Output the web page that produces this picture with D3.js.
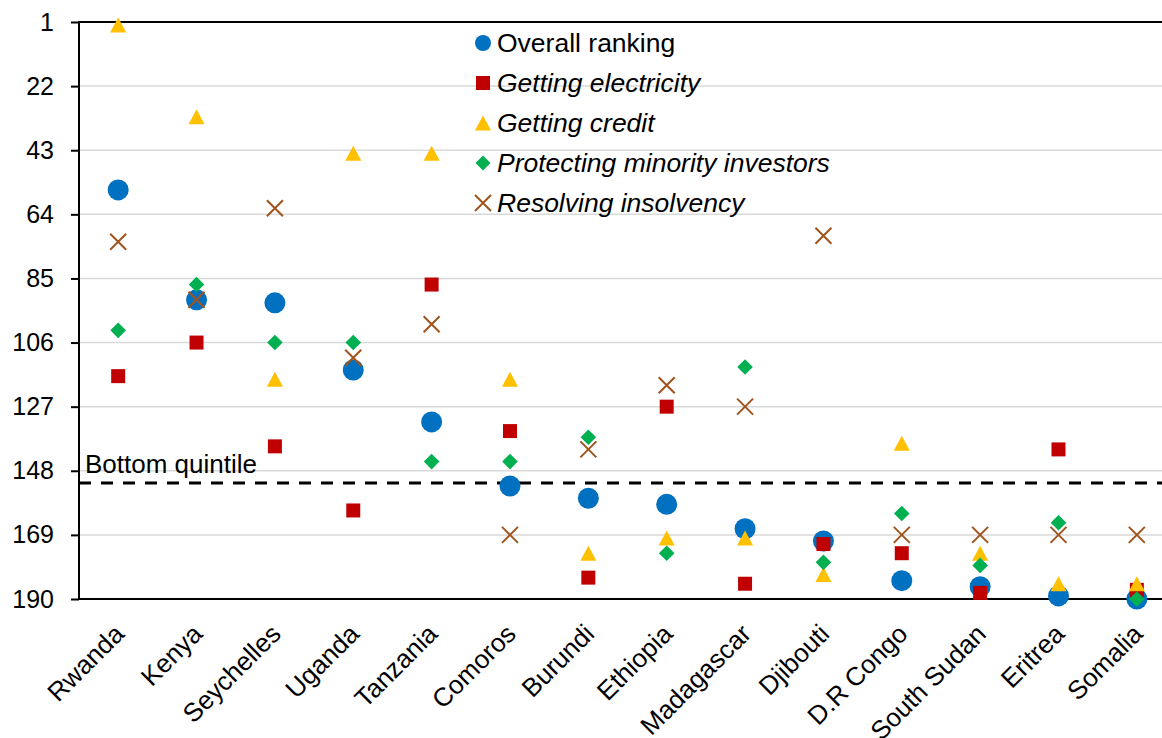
<!DOCTYPE html>
<html>
<head>
<meta charset="utf-8">
<script src="https://cdn.jsdelivr.net/npm/d3@7"></script>
<style>
  html, body { margin: 0; padding: 0; background: #fff; overflow: hidden; }
  svg { display: block; font-family: "Liberation Sans", Arial, sans-serif; }
</style>
</head>
<body>
<svg id="chart" width="1162" height="738"></svg>
<script>
const countries = ["Rwanda","Kenya","Seychelles","Uganda","Tanzania","Comoros","Burundi","Ethiopia","Madagascar","Djibouti","D.R Congo","South Sudan","Eritrea","Somalia"];
const overallRanking        = [56, 92, 93, 115, 132, 153, 157, 159, 167, 171, 184, 186, 189, 190];
const gettingElectricity    = [117, 106, 140, 161, 87, 135, 183, 127, 185, 172, 175, 188, 141, 187];
const gettingCredit         = [2, 32, 118, 44, 44, 118, 175, 170, 170, 182, 139, 175, 185, 185];
const protectingInvestors   = [102, 87, 106, 106, 145, 145, 137, 175, 114, 178, 162, 179, 165, 190];
const resolvingInsolvency   = [73, 92, 62, 111, 100, 169, 141, 120, 127, 71, 169, 169, 169, 169];
const yTicks = [1, 22, 43, 64, 85, 106, 127, 148, 169, 190];
const bottomQuintile = 152;
const seriesNames = ["Overall ranking","Getting electricity","Getting credit","Protecting minority investors","Resolving insolvency"];

const series = [
  {name: seriesNames[0], values: overallRanking, shape: "circle", color: "#0070C0", italic: false},
  {name: seriesNames[1], values: gettingElectricity, shape: "square", color: "#C00000", italic: true},
  {name: seriesNames[2], values: gettingCredit, shape: "triangle", color: "#FFC000", italic: true},
  {name: seriesNames[3], values: protectingInvestors, shape: "diamond", color: "#00B050", italic: true},
  {name: seriesNames[4], values: resolvingInsolvency, shape: "x", color: "#A0541C", italic: true}
];

const svg = d3.select("#chart");
const plotLeft = 79, plotTop = 22, plotBottom = 599, band = 78.36;

const x = d3.scaleBand().domain(countries).range([plotLeft, plotLeft + band * countries.length]).padding(0);
const y = d3.scaleLinear().domain([1, 190]).range([plotTop, plotBottom]);

// marker path generator (relative to point centre)
function markerPath(shape, s) {
  const p = d3.path();
  if (shape === "circle") { p.arc(0, 0, s, 0, 2 * Math.PI); }
  else if (shape === "square") { p.rect(-s, -s, 2 * s, 2 * s); }
  else if (shape === "triangle") { p.moveTo(0, -s); p.lineTo(s * 1.07, s); p.lineTo(-s * 1.07, s); p.closePath(); }
  else if (shape === "diamond") { p.moveTo(0, -s); p.lineTo(s, 0); p.lineTo(0, s); p.lineTo(-s, 0); p.closePath(); }
  else if (shape === "x") { p.moveTo(-s, -s); p.lineTo(s, s); p.moveTo(s, -s); p.lineTo(-s, s); }
  return p.toString();
}
const plotSize = {circle: 10.5, square: 7, triangle: 7.5, diamond: 7.8, x: 8};
const legSize = {circle: 8, square: 7, triangle: 7.5, diamond: 7.5, x: 8};

// gridlines
svg.append("g").selectAll("line").data(yTicks.slice(1, -1)).join("line")
  .attr("x1", plotLeft).attr("x2", 1162)
  .attr("y1", d => y(d)).attr("y2", d => y(d))
  .attr("stroke", "#D9D9D9").attr("stroke-width", 1.5);

// y axis
const yAxis = d3.axisLeft(y).tickValues(yTicks).tickSize(8).tickPadding(17).tickFormat(d3.format("d"));
const gy = svg.append("g").attr("transform", `translate(${plotLeft},0)`).call(yAxis);
gy.select(".domain").remove();
gy.selectAll(".tick line").attr("stroke", "#000").attr("stroke-width", 2);
gy.selectAll(".tick text").attr("font-size", 25).attr("fill", "#000")
  .attr("font-family", "Liberation Sans, Arial, sans-serif");
svg.append("line").attr("x1", plotLeft).attr("x2", plotLeft).attr("y1", plotTop - 1).attr("y2", plotBottom + 1)
  .attr("stroke", "#000").attr("stroke-width", 2);
// top and bottom lines
[1, 190].forEach(v => {
  svg.append("line").attr("x1", plotLeft).attr("x2", 1162).attr("y1", y(v)).attr("y2", y(v))
    .attr("stroke", "#000").attr("stroke-width", 2);
});

// x axis labels
const xAxis = d3.axisBottom(x).tickSize(0).tickPadding(0);
const gx = svg.append("g").attr("transform", `translate(0,${plotBottom})`).call(xAxis);
gx.select(".domain").remove();
gx.selectAll(".tick text")
  .attr("font-size", 26).attr("fill", "#000").attr("font-family", "Liberation Sans, Arial, sans-serif")
  .attr("text-anchor", "end")
  .attr("dy", "0.35em")
  .attr("transform", "translate(1,30) rotate(-45)");

// bottom quintile line
svg.append("line").attr("x1", plotLeft).attr("x2", 1162)
  .attr("y1", y(bottomQuintile)).attr("y2", y(bottomQuintile))
  .attr("stroke", "#000").attr("stroke-width", 3).attr("stroke-dasharray", "12,10");
svg.append("text").attr("x", 85).attr("y", y(bottomQuintile) - 10)
  .attr("font-size", 26).text("Bottom quintile");

// markers
series.forEach(s => {
  svg.append("g").selectAll("path").data(s.values).join("path")
    .attr("transform", (d, i) => `translate(${x(countries[i]) + x.bandwidth() / 2},${y(d)})`)
    .attr("d", markerPath(s.shape, plotSize[s.shape]))
    .attr("fill", s.shape === "x" ? "none" : s.color)
    .attr("stroke", s.shape === "x" ? s.color : "none")
    .attr("stroke-width", 2);
});

// legend
const leg = svg.append("g").attr("transform", "translate(483,43)");
const rows = leg.selectAll("g").data(series).join("g")
  .attr("transform", (d, i) => `translate(0,${i * 40})`);
rows.append("path")
  .attr("d", d => markerPath(d.shape, legSize[d.shape]))
  .attr("fill", d => d.shape === "x" ? "none" : d.color)
  .attr("stroke", d => d.shape === "x" ? d.color : "none")
  .attr("stroke-width", 2);
rows.append("text").attr("x", 14).attr("dy", "0.35em")
  .attr("font-size", 26.5)
  .attr("font-style", d => d.italic ? "italic" : "normal")
  .text(d => d.name);
</script>
</body>
</html>
